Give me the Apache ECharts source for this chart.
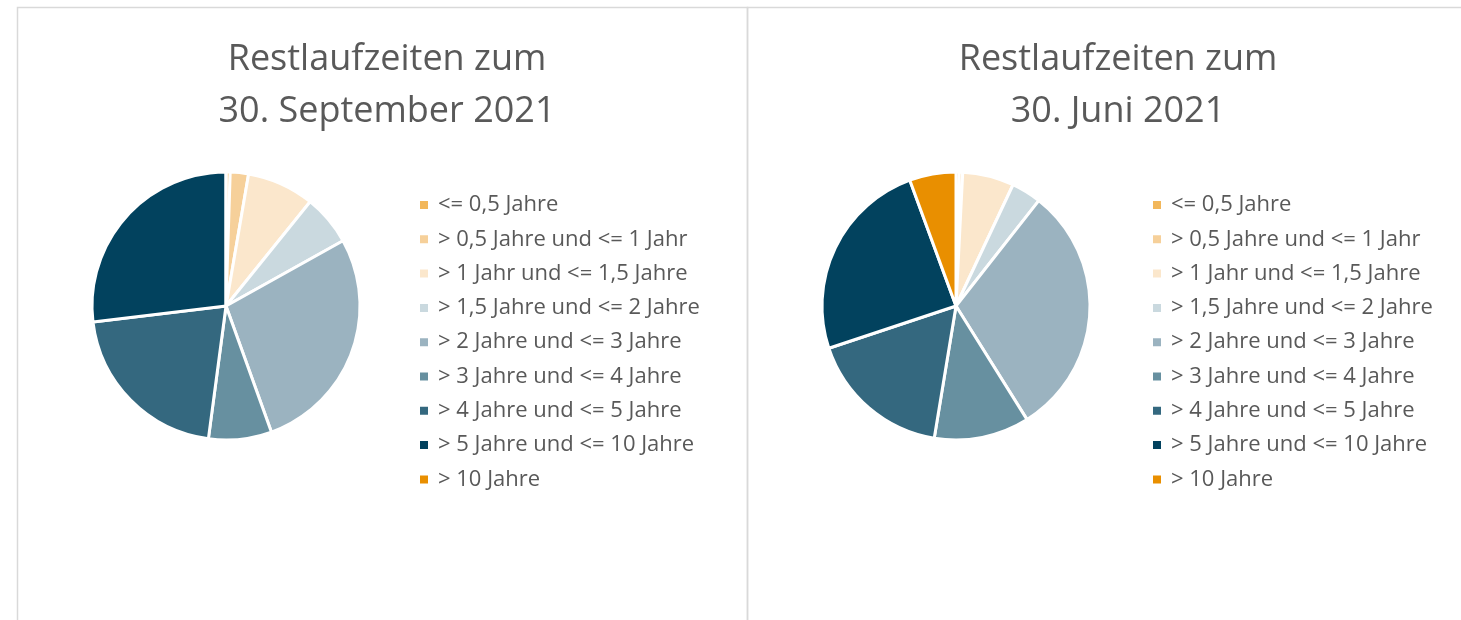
<!DOCTYPE html>
<html>
<head>
<meta charset="utf-8">
<script src="https://cdn.jsdelivr.net/npm/echarts@6/dist/echarts.min.js"></script>
<style>
  html, body { margin: 0; padding: 0; background: #fff; }
  #main { width: 1461px; height: 620px; }
</style>
</head>
<body>
<div id="main"></div>
<script>
// Laufzeitbänder
const categories = [
  '<= 0,5 Jahre',
  '> 0,5 Jahre und <= 1 Jahr',
  '> 1 Jahr und <= 1,5 Jahre',
  '> 1,5 Jahre und <= 2 Jahre',
  '> 2 Jahre und <= 3 Jahre',
  '> 3 Jahre und <= 4 Jahre',
  '> 4 Jahre und <= 5 Jahre',
  '> 5 Jahre und <= 10 Jahre',
  '> 10 Jahre'
];
// Anteile in %, aus dem Bild geschätzt
const valuesSep2021 = [0.5, 2.2, 8.1, 6.1, 27.6, 7.6, 21.0, 26.9, 0];
const valuesJun2021 = [0.4, 0.4, 6.2, 3.6, 30.5, 11.5, 17.3, 24.5, 5.6];
const colors = ['#F2B75B', '#F6D09A', '#FBE7CC', '#CAD9DF', '#9BB3C0', '#6790A0', '#34687F', '#02425E', '#E98F00'];

const titles = ['Restlaufzeiten zum\n30. September 2021', 'Restlaufzeiten zum\n30. Juni 2021'];

const fontFamily = '"Open Sans", Lato, sans-serif';
const textColor = '#595959';

const myChart = echarts.init(document.getElementById('main'));

function toData(values) {
  return categories.map((name, i) => ({ name: name, value: values[i] }));
}

function makeLegend(left) {
  return {
    orient: 'vertical',
    left: left,
    top: 189,
    icon: 'rect',
    itemWidth: 10,
    itemHeight: 10,
    itemGap: 12.3,
    selectedMode: false,
    textStyle: {
      color: textColor,
      fontFamily: fontFamily,
      fontSize: 22,
      lineHeight: 22,
      padding: [0, 0, 0, 4]
    },
    data: categories
  };
}

function makePie(center, values) {
  return {
    type: 'pie',
    center: center,
    radius: 134,
    startAngle: 90,
    clockwise: true,
    avoidLabelOverlap: false,
    label: { show: false },
    labelLine: { show: false },
    emphasis: { scale: false },
    itemStyle: { borderColor: '#fff', borderWidth: 3 },
    data: toData(values)
  };
}

function makeTitle(text, left) {
  return {
    text: text, left: left, top: 29, textAlign: 'center',
    textStyle: { color: textColor, fontFamily: fontFamily, fontWeight: 'normal', fontSize: 36, lineHeight: 52 }
  };
}

const option = {
  color: colors,
  animation: false,
  graphic: [
    // Rahmen der beiden Felder
    { type: 'rect', shape: { x: 17.5, y: 7.5, width: 730, height: 700 }, style: { fill: 'none', stroke: '#d9d9d9', lineWidth: 1.5 }, silent: true },
    { type: 'rect', shape: { x: 747.5, y: 7.5, width: 760, height: 700 }, style: { fill: 'none', stroke: '#d9d9d9', lineWidth: 1.5 }, silent: true }
  ],
  title: [makeTitle(titles[0], 382), makeTitle(titles[1], 1113)],
  legend: [makeLegend(413), makeLegend(1146)],
  series: [
    makePie([226, 306], valuesSep2021),
    makePie([956, 306], valuesJun2021)
  ]
};

myChart.setOption(option);
window.addEventListener('resize', function() {
  myChart.resize();
});
</script>
</body>
</html>
